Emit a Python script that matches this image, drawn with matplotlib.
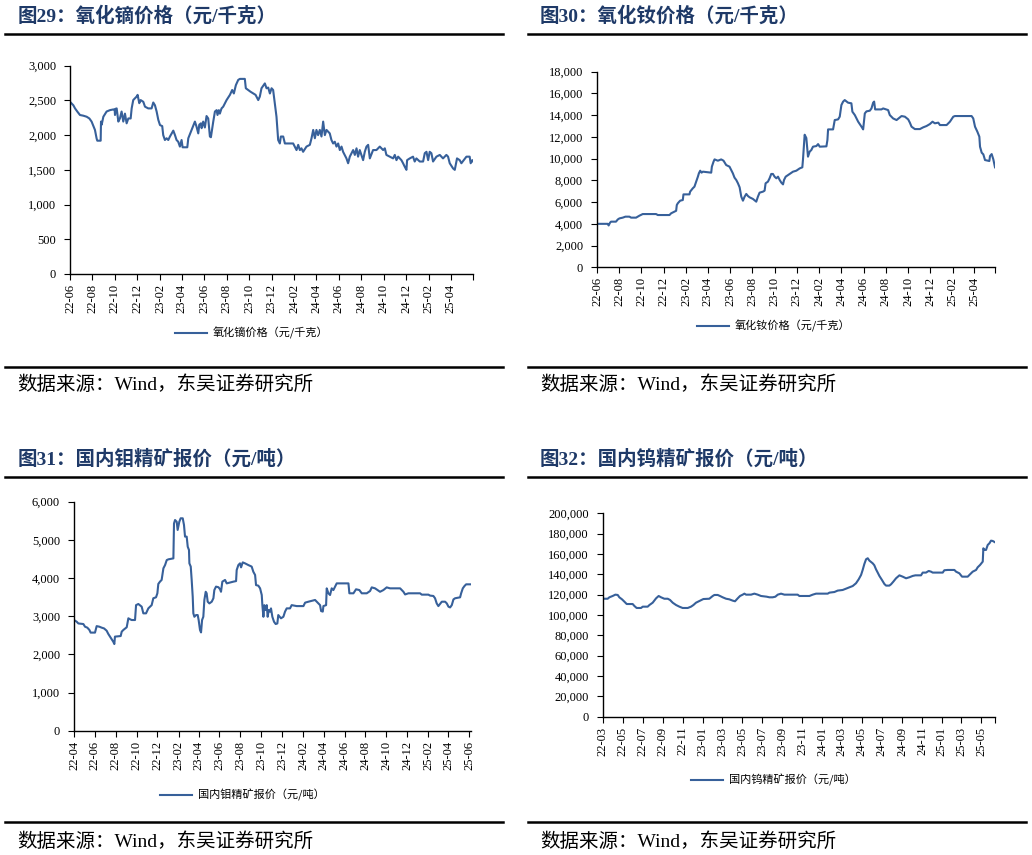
import matplotlib
matplotlib.use('Agg')
import matplotlib.pyplot as plt
from matplotlib.lines import Line2D
from matplotlib.font_manager import FontProperties
from matplotlib.ticker import FuncFormatter, MultipleLocator
import numpy as np
import pandas as pd

# ---------------- data (x = months since series start) ----------------
dy_start = '2022-06-01'
dy_months = [0.00, 0.30, 0.45, 0.65, 0.89, 1.19, 1.49, 1.73, 1.93, 2.23, 2.38, 2.44, 2.74, 2.77, 2.83, 2.98,
             3.27, 3.57, 3.87, 3.99, 4.02, 4.08, 4.17, 4.32, 4.46, 4.61, 4.76, 4.91, 5.06, 5.21, 5.42, 5.51,
             5.65, 5.95, 6.04, 6.19, 6.31, 6.55, 6.70, 6.99, 7.29, 7.44, 7.59, 7.74, 7.89, 8.04, 8.24, 8.33,
             8.48, 8.63, 8.78, 8.93, 9.23, 9.38, 9.52, 9.67, 9.82, 9.97, 10.06, 10.48, 10.57, 10.86, 11.16,
             11.31, 11.46, 11.55, 11.70, 11.76, 11.90, 12.05, 12.20, 12.35, 12.50, 12.59, 12.80, 12.95, 13.10,
             13.18, 13.30, 13.39, 13.54, 13.69, 13.99, 14.29, 14.49, 14.64, 14.82, 15.03, 15.18, 15.62, 15.71,
             15.92, 16.13, 16.37, 16.58, 16.82, 16.96, 17.11, 17.41, 17.56, 17.71, 17.86, 18.01, 18.15, 18.30,
             18.45, 18.60, 18.75, 18.84, 19.05, 19.20, 19.94, 20.24, 20.39, 20.54, 20.68, 20.83, 21.13, 21.43,
             21.58, 21.73, 21.88, 22.02, 22.17, 22.32, 22.47, 22.62, 22.77, 22.92, 23.21, 23.36, 23.51, 23.66,
             23.81, 23.96, 24.11, 24.26, 24.40, 24.70, 24.85, 25.00, 25.30, 25.45, 25.60, 25.74, 25.89, 26.19,
             26.34, 26.49, 26.64, 26.79, 27.08, 27.38, 27.68, 27.98, 28.13, 28.27, 28.57, 28.87, 29.02, 29.17,
             29.32, 29.61, 29.76, 29.91, 30.06, 30.12, 30.36, 30.65, 30.80, 30.95, 31.25, 31.55, 31.70, 31.85,
             32.00, 32.14, 32.29, 32.44, 32.74, 33.04, 33.33, 33.63, 33.78, 33.93, 34.23, 34.38, 34.58, 34.82,
             34.97, 35.42, 35.71, 35.80, 35.95, 36.00]
dy_values = [2480, 2430, 2385, 2340, 2290, 2280, 2265, 2240, 2195, 2075, 1950, 1920, 1920, 2195, 2150, 2265,
             2340, 2360, 2370, 2370, 2290, 2380, 2385, 2195, 2240, 2340, 2195, 2310, 2170, 2240, 2240, 2385,
             2505, 2555, 2580, 2460, 2505, 2480, 2410, 2385, 2385, 2470, 2430, 2340, 2220, 2145, 2130, 2000,
             1930, 1955, 1930, 1980, 2065, 2000, 1930, 1905, 1835, 1930, 1825, 1825, 1955, 2075, 2195,
             2120, 2025, 2150, 2170, 2100, 2195, 2110, 2275, 2240, 1980, 1970, 2195, 2340, 2360,
             2290, 2360, 2310, 2385, 2410, 2505, 2580, 2650, 2600, 2720, 2795, 2810, 2810, 2675,
             2650, 2625, 2600, 2580, 2505, 2555, 2675, 2745, 2675, 2685, 2600, 2675, 2650, 2460,
             2265, 1930, 1880, 1980, 1980, 1880, 1880, 1785, 1860, 1785, 1810, 1760, 1835, 1860,
             1955, 2075, 1955, 2075, 2000, 2075, 1980, 2195, 2000, 2075, 2025, 1930, 1880, 1905,
             1835, 1880, 1785, 1835, 1760, 1665, 1595, 1690, 1785, 1715, 1810, 1690, 1785, 1640,
             1760, 1835, 1860, 1665, 1785, 1785, 1835, 1785, 1810, 1715, 1690, 1665, 1715, 1640,
             1690, 1640, 1595, 1545, 1500, 1640, 1665, 1690, 1620, 1665, 1620, 1620, 1740, 1760,
             1640, 1760, 1740, 1620, 1690, 1715, 1665, 1715, 1690, 1595, 1520, 1500, 1665, 1640,
             1595, 1690, 1690, 1595, 1640, 1625]

nd_start = '2022-06-01'
nd_months = [0.00, 0.96, 1.05, 1.17, 1.26, 1.71, 1.87, 2.02, 2.32, 2.56, 2.92, 3.07, 3.52, 3.82, 4.12, 5.32,
             5.48, 6.53, 6.68, 6.98, 7.13, 7.19, 7.28, 7.49, 7.73, 7.79, 8.33, 8.39, 8.63, 8.78, 8.94, 9.09,
             9.18, 9.30, 9.42, 9.54, 10.29, 10.35, 10.50, 10.59, 10.89, 11.19, 11.40, 11.64, 11.94, 12.09,
             12.24, 12.39, 12.55, 12.70, 12.85, 12.94, 13.00, 13.15, 13.30, 13.45, 13.60, 13.75, 14.05, 14.35,
             14.50, 14.65, 14.95, 15.10, 15.19, 15.40, 15.55, 15.70, 15.85, 16.00, 16.16, 16.31, 16.46, 16.61,
             16.76, 16.85, 17.00, 17.36, 17.66, 17.96, 18.26, 18.50, 18.56, 18.71, 18.86, 19.01, 19.16, 19.31,
             19.46, 19.77, 19.92, 20.07, 20.67, 20.76, 20.82, 21.27, 21.42, 21.72, 21.87, 22.02, 22.17, 22.32,
             22.62, 22.92, 23.01, 23.23, 23.53, 23.83, 23.98, 24.13, 24.28, 24.58, 24.73, 24.88, 24.97, 25.06,
             25.63, 25.78, 26.23, 26.38, 26.68, 26.99, 27.44, 27.74, 28.04, 28.19, 28.34, 28.64, 29.09, 29.39,
             29.69, 29.99, 30.23, 30.44, 30.75, 30.90, 31.50, 31.80, 32.10, 32.25, 33.75, 33.90, 34.06, 34.27,
             34.45, 34.51, 34.66, 34.81, 34.96, 35.35, 35.41, 35.56, 35.71, 35.86]
nd_values = [4000, 4000, 3850, 4100, 4200, 4200, 4400, 4500, 4570, 4660, 4660, 4570, 4570, 4750, 4900, 4900,
             4810, 4810, 4970, 5120, 5200, 5730, 5890, 6130, 6190, 6710, 6710, 6960, 7270, 7420, 7880, 8340,
             8650, 8890, 8710, 8800, 8710, 9260, 9720, 9930, 9810, 9930, 9810, 9410, 9260, 8950,
             8650, 8250, 8030, 7730, 7360, 6810, 6500, 6130, 6500, 6750, 6560, 6440, 6290, 6040,
             6500, 6870, 6960, 7050, 7730, 7880, 8190, 8590, 8590, 8340, 8190, 8340, 8030, 7790,
             7630, 8030, 8340, 8590, 8800, 8890, 9100, 9200, 9930, 12200, 11900, 10180, 10640, 10790,
             11100, 11160, 11340, 11100, 11130, 11710, 12690, 12690, 13550, 13610, 13860, 14930, 15240, 15390,
             15150, 15090, 14320, 14010, 13400, 12940, 12690, 14160, 14350, 14410, 14620, 15150, 15250, 14530,
             14530, 14620, 14470, 14010, 13700, 13550, 13920, 13860, 13610, 13310, 12940, 12720, 12720, 12880,
             13000, 13180, 13400, 13250, 13310, 13090, 13090, 13400, 13860, 13920, 13920, 13700, 12940, 12480,
             12020, 11100, 10550, 10390, 9870, 9780, 10240, 10420, 9930, 9200]

mo_start = '2022-04-01'
mo_months = [0.00, 0.26, 0.42, 0.90, 1.06, 1.28, 1.48, 1.60, 2.02, 2.18, 2.44, 2.66, 2.89, 3.14, 3.30, 3.46,
             3.62, 3.78, 3.88, 3.94, 4.49, 4.59, 4.75, 5.07, 5.23, 5.39, 5.55, 5.87, 5.97, 6.19, 6.51, 6.67,
             6.93, 7.15, 7.47, 7.63, 7.89, 8.02, 8.11, 8.27, 8.43, 8.60, 8.76, 8.92, 9.08, 9.56, 9.62, 9.72,
             9.88, 9.97, 10.13, 10.26, 10.46, 10.58, 10.68, 10.84, 10.94, 11.06, 11.10, 11.23, 11.32, 11.42,
             11.48, 11.58, 11.74, 11.90, 11.99, 12.12, 12.22, 12.32, 12.44, 12.54, 12.67, 12.76, 12.86, 13.02,
             13.25, 13.41, 13.50, 13.66, 13.89, 14.05, 14.14, 14.27, 14.53, 14.69, 15.33, 15.59, 15.65, 15.81,
             15.97, 16.07, 16.23, 16.45, 16.77, 17.09, 17.25, 17.42, 17.51, 17.73, 17.90, 18.06, 18.12, 18.22,
             18.31, 18.44, 18.54, 18.63, 18.73, 18.86, 18.95, 19.08, 19.24, 19.40, 19.56, 19.65, 19.91, 20.14,
             20.30, 20.46, 20.78, 20.94, 21.42, 22.07, 22.23, 22.55, 23.19, 23.35, 23.67, 23.77, 23.93, 23.99,
             24.25, 24.31, 24.47, 24.63, 24.79, 24.95, 25.11, 25.27, 26.40, 26.49, 26.88, 27.13, 27.45, 27.68,
             28.16, 28.48, 28.64, 28.96, 29.44, 29.76, 30.08, 30.40, 31.37, 31.69, 31.85, 32.17, 33.29, 33.45,
             34.09, 34.25, 34.57, 34.73, 34.89, 35.05, 35.38, 35.70, 35.86, 36.02, 36.18, 36.34, 36.50, 36.66,
             37.14, 37.24, 37.40, 37.56, 37.72, 38.16]
mo_values = [2900, 2855, 2810, 2795, 2725, 2700, 2640, 2570, 2570, 2740, 2725, 2700, 2680, 2620, 2535, 2465,
             2395, 2330, 2270, 2465, 2480, 2595, 2640, 2710, 2945, 2920, 2900, 2900, 3290, 3320, 3250, 3075,
             3075, 3205, 3290, 3470, 3495, 3600, 3845, 3905, 3950, 4255, 4340, 4470, 4490, 4515, 5430, 5520,
             5475, 5260, 5475, 5565, 5565, 5390, 5085, 5085, 4820, 4735, 4385, 4300, 3950, 3510,
             3075, 2985, 3030, 3030, 2900, 2640, 2575, 2900, 2985, 3425, 3640, 3600, 3380, 3335,
             3380, 3470, 3685, 3775, 3760, 3705, 3640, 3905, 3950, 3860, 3905, 3920, 4210, 4340,
             4385, 4280, 4410, 4385, 4340, 4300, 4165, 4080, 3815, 3800, 3730, 3555, 3290, 2985,
             3290, 3160, 3290, 2985, 3160, 3120, 3205, 2985, 2855, 2795, 2810, 3030, 2945, 2985,
             3120, 3205, 3205, 3290, 3265, 3265, 3355, 3380, 3425, 3380, 3290, 3135, 3120, 3265,
             3290, 3730, 3600, 3555, 3730, 3685, 3775, 3860, 3860, 3600, 3600, 3705, 3685, 3600,
             3600, 3660, 3755, 3730, 3640, 3685, 3755, 3730, 3730, 3640, 3570, 3600, 3600, 3565,
             3565, 3540, 3530, 3470, 3335, 3265, 3380, 3380, 3335, 3250, 3230, 3290, 3440, 3470,
             3495, 3600, 3730, 3790, 3835, 3835]

w_start = '2022-03-01'
w_months = [0.00, 0.50, 0.67, 1.00, 1.27, 1.51, 1.67, 1.94, 2.18, 2.41, 3.01, 3.18, 3.41, 3.85, 4.02, 4.52,
            4.69, 5.02, 5.36, 5.62, 5.86, 6.19, 6.53, 6.76, 7.03, 7.37, 7.70, 8.03, 8.54, 8.87, 9.11, 9.37,
            9.78, 10.11, 10.71, 11.05, 11.22, 11.55, 11.78, 12.05, 12.39, 12.72, 13.06, 13.29, 13.56, 13.79,
            14.06, 14.23, 14.40, 14.90, 15.23, 15.57, 15.90, 16.47, 16.74, 17.07, 17.34, 17.58, 17.91, 18.25,
            19.58, 19.75, 20.76, 21.09, 21.43, 22.60, 22.77, 23.27, 23.60, 24.10, 24.44, 24.77, 25.11, 25.44,
            25.71, 25.95, 26.11, 26.28, 26.45, 26.62, 26.78, 27.12, 27.28, 27.45, 27.62, 27.79, 28.05, 28.29,
            28.46, 28.79, 28.96, 29.19, 29.46, 29.80, 30.13, 30.47, 30.80, 31.13, 31.40, 31.97, 32.14, 32.47,
            32.74, 32.98, 33.14, 34.15, 34.31, 34.65, 35.32, 35.49, 35.82, 36.09, 36.66, 36.83, 37.16, 37.50,
            37.66, 37.90, 38.17, 38.23, 38.33, 38.50, 38.67, 38.84, 39.00, 39.17, 39.40]
w_values = [116000, 116000, 117400, 118700, 120000, 119700, 117400, 115400, 113100, 110800, 110800, 108900,
            106900, 106900, 108200, 108200, 109800, 112100, 116400, 118700, 117400, 116000, 116000, 114800,
            112100, 109800, 108200, 106900, 106900, 108200, 109800, 112100, 114100, 115700, 116000, 118700,
            119700, 119700, 118700, 117400, 116000, 115400, 114100, 113500, 116400, 118700, 120000, 121000,
            120000, 120000, 121000, 120000, 118700, 118000, 117400, 117400, 118000, 120000, 121000, 120000,
            120000, 118700, 118700, 120000, 121000, 121000, 122000, 122600, 124000, 124600, 125900, 127200,
            128500, 131200, 135100, 139400, 144300, 150200, 154800, 155800, 153500, 150800, 148900, 144900,
            141700, 138400, 134400, 130500, 128900, 128900, 130200, 132800, 136100, 139000, 137700, 136100,
            137100, 138400, 139000, 139000, 141700, 141700, 143300, 142600, 141700, 141700, 144000, 144300,
            144300, 142600, 141000, 137700, 137700, 139400, 142600, 144300, 146900, 149200, 152500, 165600,
            164000, 164000, 168900, 170500, 173100, 172800, 171500]

titles = ['图29：氧化镝价格（元/千克）', '图30：氧化钕价格（元/千克）',
          '图31：国内钼精矿报价（元/吨）', '图32：国内钨精矿报价（元/吨）']
legend_labels = ['氧化镝价格（元/千克）', '氧化钕价格（元/千克）',
                 '国内钼精矿报价（元/吨）', '国内钨精矿报价（元/吨）']
source_text = '数据来源：Wind，东吴证券研究所'

# ---------------- styling ----------------
W, H = 1032, 855
LINE_C = '#37609A'
TITLE_C = '#1F3A68'
CJK = ['Liberation Serif', 'Noto Sans CJK SC', 'DejaVu Sans']
TICKF = ['Liberation Serif', 'DejaVu Serif']
TICK_FS = 9

fig = plt.figure(figsize=(W / 100, H / 100), dpi=100)


def to_dates(start, months):
    return pd.Timestamp(start) + pd.to_timedelta(np.asarray(months) * 30.4375, unit='D')


def px_axes(l, t, r, b):
    return fig.add_axes([l / W, 1 - b / H, (r - l) / W, (b - t) / H])


def hline(x0, x1, y, lw=1.8):
    fig.add_artist(Line2D([x0 / W, x1 / W], [1 - y / H, 1 - y / H], color='black', lw=lw,
                          transform=fig.transFigure))


def panel(box, start, months, values, ymax, ystep, tick_end, label_ticks, end_tick, legend_xy, label):
    ax = px_axes(*box)
    dates = to_dates(start, months)
    line, = ax.plot(dates, values, color=LINE_C, lw=1.5)
    ax.set_ylim(0, ymax)
    ax.yaxis.set_major_locator(MultipleLocator(ystep))
    ax.yaxis.set_major_formatter(FuncFormatter(lambda v, p: f'{int(v):,}'))
    ax.set_xlim(dates[0], dates[-1])
    ticks = list(pd.date_range(start, tick_end, freq='2MS'))
    labels = [t.strftime('%y-%m') for t in ticks]
    if end_tick:
        ticks.append(dates[-1])
        labels.append('')
    if not label_ticks:
        labels[-1] = ''
    ax.set_xticks(ticks)
    ax.set_xticklabels(labels, rotation=90, fontfamily=TICKF, fontsize=TICK_FS)
    for t in ax.get_yticklabels():
        t.set_fontfamily(TICKF)
        t.set_fontsize(TICK_FS)
    ax.tick_params(axis='y', direction='out', length=4, width=0.8, pad=6)
    ax.tick_params(axis='x', direction='out', length=4, width=0.8, pad=3)
    for s in ('top', 'right'):
        ax.spines[s].set_visible(False)
    for s in ('left', 'bottom'):
        ax.spines[s].set_linewidth(1.0)
    ax.legend([line], [label], loc='center left',
              bbox_to_anchor=(legend_xy[0] / W, 1 - legend_xy[1] / H), bbox_transform=fig.transFigure,
              frameon=False, borderpad=0, borderaxespad=0, handlelength=2.9, handletextpad=0.5,
              prop=FontProperties(family=['Noto Sans CJK SC'], size=8))
    return ax


# panel boxes in pixels: left, top, right, bottom
panel((70, 65.7, 473, 274), dy_start, dy_months, dy_values, 3000, 500, '2025-06-01', False, False,
      (175, 333), legend_labels[0])
panel((597, 71.7, 995, 267.3), nd_start, nd_months, nd_values, 18000, 2000, '2025-04-01', True, True,
      (697, 326), legend_labels[1])
panel((74, 501.7, 470.7, 730.7), mo_start, mo_months, mo_values, 6000, 1000, '2025-06-01', True, False,
      (160, 795), legend_labels[2])
panel((602.7, 513.3, 995, 716.7), w_start, w_months, w_values, 200000, 20000, '2025-05-01', True, True,
      (691, 780), legend_labels[3])

# titles, rules, sources
for (tx, ty), t in zip([(18, 16), (540, 16), (18, 459), (540, 459)], titles):
    fig.text(tx / W, 1 - ty / H, t, fontsize=14, fontweight='bold', color=TITLE_C,
             va='center', ha='left', family=CJK)

hline(5, 503, 34.3)
hline(528, 1026, 34.3)
hline(5, 503, 366.7)
hline(528, 1026, 366.7)
hline(5, 503, 476.7)
hline(528, 1026, 476.7)
hline(5, 503, 822.3)
hline(528, 1026, 822.3)

for sx, sy in [(17, 385), (540, 385), (17, 841.5), (540, 841.5)]:
    fig.text(sx / W, 1 - sy / H, source_text, fontsize=14, va='center', ha='left', family=CJK)

fig.savefig('out.png', dpi=100)
